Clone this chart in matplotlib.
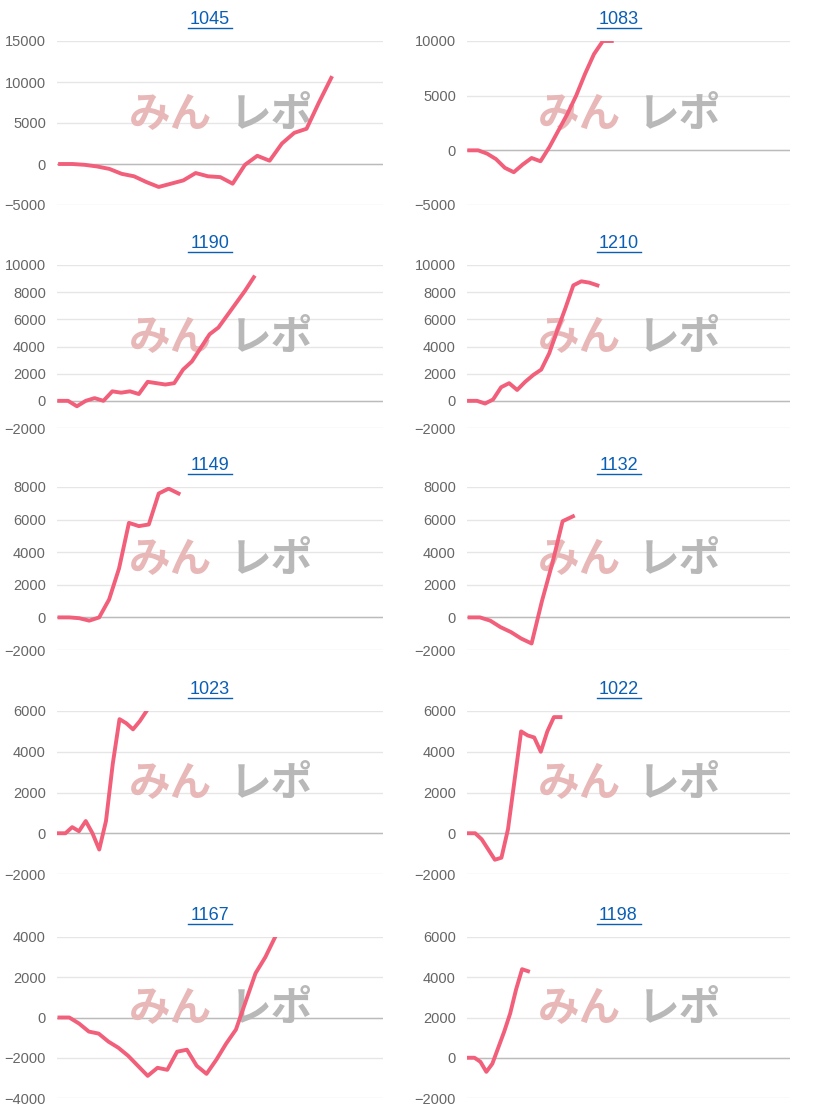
import matplotlib.pyplot as plt
from matplotlib.lines import Line2D

plt.rcParams['font.family'] = ['Liberation Sans', 'DejaVu Sans']

# titles of the machines
titulos = ['1045', '1083', '1190', '1210', '1149', '1132', '1023', '1022', '1167', '1198']

# values per chart
v1045 = [0, 0, -100, -300, -600, -1200, -1500, -2200, -2800, -2400, -2000, -1100, -1500, -1600,
         -2400, -100, 1000, 400, 2500, 3800, 4300, 7500, 10500]
v1083 = [0, 0, -300, -800, -1600, -2000, -1300, -700, -1000, 300, 1800, 3300, 5000, 7000, 8800, 10000, 10000]
v1190 = [0, 0, -400, 0, 200, 0, 700, 600, 700, 500, 1400, 1300, 1200, 1300, 2300, 2900, 3900, 4900,
         5400, 6300, 7200, 8100, 9100]
v1210 = [0, 0, -200, 100, 1000, 1300, 800, 1400, 1900, 2300, 3500, 5200, 6800, 8500, 8800, 8700, 8500]
v1149 = [0, 0, -50, -200, 0, 1100, 3000, 5800, 5600, 5700, 7600, 7900, 7600]
v1132 = [0, 0, -200, -600, -900, -1300, -1600, 1000, 3300, 5900, 6200]
v1023 = [0, 0, 300, 100, 600, 0, -800, 600, 3400, 5600, 5400, 5100, 5500, 6000]
v1022 = [0, 0, -300, -800, -1300, -1200, 200, 2600, 5000, 4800, 4700, 4000, 5000, 5700, 5700]
v1167 = [0, 0, -300, -700, -800, -1200, -1500, -1900, -2400, -2900, -2500, -2600, -1700, -1600,
         -2400, -2800, -2100, -1300, -600, 800, 2200, 3000, 4000]
v1198 = [0, 0, -200, -700, -300, 500, 1300, 2200, 3400, 4400, 4300]
valores = [v1045, v1083, v1190, v1210, v1149, v1132, v1023, v1022, v1167, v1198]

# y limits, y ticks and x span (number of slots) of each chart
limites_y = [(-5000, 15000), (-5000, 10000), (-2000, 10000), (-2000, 10000), (-2000, 8000),
             (-2000, 8000), (-2000, 6000), (-2000, 6000), (-4000, 4000), (-2000, 6000)]
pasos_y = [5000, 5000, 2000, 2000, 2000, 2000, 2000, 2000, 2000, 2000]
slots_x = [26.2, 36, 36.6, 40, 32.6, 31, 48, 49, 33, 54]

W, H = 816, 1115
fig = plt.figure(figsize=(W / 100, H / 100), dpi=100)

izq = [57, 467]
anchos = [326, 323]
tops = [41, 265, 487, 711, 937]
bottoms = [205, 428, 650, 874, 1098]

for i in range(10):
    fila, col = i // 2, i % 2
    ax = fig.add_axes([izq[col] / W, 1 - bottoms[fila] / H, anchos[col] / W,
                       (bottoms[fila] - tops[fila]) / H])
    lo, hi = limites_y[i]
    ax.set_ylim(lo, hi)
    ax.set_xlim(-0.25, slots_x[i])
    ax.set_yticks(range(lo, hi + 1, pasos_y[i]))
    ax.set_xticks([])
    ax.grid(axis='y', color='#e6e6e6', lw=1)
    ax.axhline(0, color='#bbbbbb', lw=1)
    for s in ax.spines.values():
        s.set_visible(False)
    ax.tick_params(axis='y', length=0, labelsize=10.5, labelcolor='#666666', pad=8)
    ax.set_axisbelow(True)

    # watermark
    ax.text(0.22, 0.55, 'みん', transform=ax.transAxes, fontsize=30, fontweight='bold',
            color='#e8b8b8', family='Noto Sans CJK JP', va='center', style='italic')
    ax.text(0.53, 0.55, 'レポ', transform=ax.transAxes, fontsize=30, fontweight='bold',
            color='#b8b8b8', family='Noto Sans CJK JP', va='center', style='italic')

    ax.plot(range(len(valores[i])), valores[i], color='#f25f7a', lw=2.8, zorder=3)

    # title with underline
    cx = izq[col] + anchos[col] / 2 - 10
    cy = tops[fila] - 22
    fig.text(cx / W, 1 - cy / H, titulos[i], ha='center', va='center',
             fontsize=13, color='#0a5fb4')
    fig.add_artist(Line2D([(cx - 22) / W, (cx + 22) / W], [1 - (cy + 9) / H] * 2,
                          color='#0a5fb4', lw=1))

fig.savefig('out.png', dpi=100)
